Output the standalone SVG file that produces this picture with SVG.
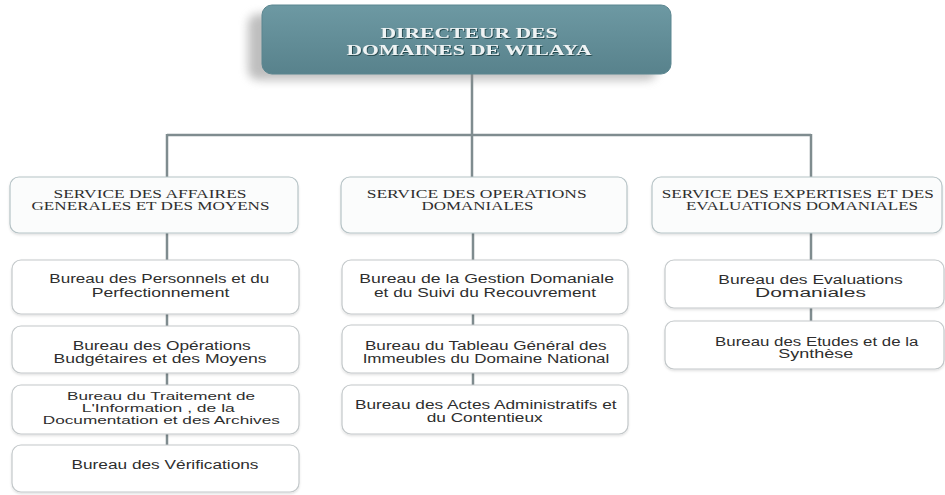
<svg xmlns="http://www.w3.org/2000/svg" width="945" height="495" viewBox="0 0 945 495">
<defs>
<linearGradient id="topg" x1="0" y1="0" x2="0" y2="1">
<stop offset="0" stop-color="#6d99a3"/>
<stop offset="1" stop-color="#58828c"/>
</linearGradient>
<filter id="blur" x="-20%" y="-50%" width="140%" height="200%"><feGaussianBlur stdDeviation="5"/></filter>
<filter id="tsh" x="-10%" y="-30%" width="120%" height="160%"><feDropShadow dx="1" dy="1" stdDeviation="0.6" flood-color="#1e3a40" flood-opacity="0.8"/></filter>
<filter id="bsh" x="-5%" y="-10%" width="110%" height="130%"><feDropShadow dx="0" dy="1.5" stdDeviation="1" flood-color="#000" flood-opacity="0.12"/></filter>
</defs>
<style>
.conn{stroke:#7f8c8f;stroke-width:2.5;fill:none}
.svc{fill:#fbfcfc;stroke:#b6c3c6;stroke-width:1.2;filter:url(#bsh)}
.bur{fill:#ffffff;stroke:#c3c8ca;stroke-width:1.2;filter:url(#bsh)}
.ts{font-family:"Liberation Serif","Times New Roman",serif;font-size:12.5px;fill:#2e2e2e;text-anchor:middle}
.tb{font-family:"Liberation Sans",Arial,sans-serif;font-size:12.5px;fill:#2e2e2e;text-anchor:middle}
.tb.sm{font-size:11px}
.tt{font-family:"Liberation Serif","Times New Roman",serif;font-size:15px;font-weight:bold;fill:#eef3f4;text-anchor:middle;filter:url(#tsh)}
</style>
<rect width="945" height="495" fill="#ffffff"/>

<g id="connectors">
<path class="conn" d="M472 74 V135 M167 135 H811 M167 134 V177 M472 135 V177 M811 134 V177"/>
<path class="conn" d="M167 233 V260 M167 314 V326 M167 373 V385 M167 434 V445"/>
<path class="conn" d="M473 233 V260 M473 314 V326 M473 373 V385"/>
<path class="conn" d="M811 233 V260 M811 308 V321"/>
</g>

<g id="directeur">
<rect x="248" y="14" width="409" height="66" rx="10" fill="#8a8a8a" opacity="0.55" filter="url(#blur)"/>
<rect x="262" y="5" width="409" height="69" rx="10" fill="url(#topg)" stroke="#5b8690" stroke-width="1"/>
<text class="tt" x="469" y="38" textLength="177" lengthAdjust="spacingAndGlyphs">DIRECTEUR DES</text>
<text class="tt" x="469" y="55" textLength="245" lengthAdjust="spacingAndGlyphs">DOMAINES DE WILAYA</text>
</g>

<g id="svc-affaires">
<rect class="svc" x="10" y="177" width="288" height="56" rx="9"/>
<text class="ts" x="150" y="197.5" textLength="193" lengthAdjust="spacingAndGlyphs">SERVICE DES AFFAIRES</text>
<text class="ts" x="150.5" y="210" textLength="238" lengthAdjust="spacingAndGlyphs">GENERALES ET DES MOYENS</text>
</g>

<g id="svc-operations">
<rect class="svc" x="341" y="177" width="286" height="56" rx="9"/>
<text class="ts" x="476.7" y="197.5" textLength="220" lengthAdjust="spacingAndGlyphs">SERVICE DES OPERATIONS</text>
<text class="ts" x="477.5" y="210" textLength="112" lengthAdjust="spacingAndGlyphs">DOMANIALES</text>
</g>

<g id="svc-expertises">
<rect class="svc" x="652" y="177" width="290" height="56" rx="9"/>
<text class="ts" x="797.8" y="197.5" textLength="272" lengthAdjust="spacingAndGlyphs">SERVICE DES EXPERTISES ET DES</text>
<text class="ts" x="802" y="210" textLength="232" lengthAdjust="spacingAndGlyphs">EVALUATIONS DOMANIALES</text>
</g>

<g id="b-personnels">
<rect class="bur" x="12" y="260" width="287" height="54" rx="9"/>
<text class="tb" x="159.3" y="283" textLength="220" lengthAdjust="spacingAndGlyphs">Bureau des Personnels et du</text>
<text class="tb" x="160.5" y="297.3" textLength="137.6" lengthAdjust="spacingAndGlyphs">Perfectionnement</text>
</g>

<g id="b-budgetaires">
<rect class="bur" x="12" y="326" width="287" height="47" rx="9"/>
<text class="tb" x="161.7" y="350" textLength="178" lengthAdjust="spacingAndGlyphs">Bureau des Opérations</text>
<text class="tb" x="160" y="362.7" textLength="213" lengthAdjust="spacingAndGlyphs">Budgétaires et des Moyens</text>
</g>

<g id="b-traitement">
<rect class="bur" x="12" y="385" width="287" height="49" rx="9"/>
<text class="tb sm" x="161" y="399.5" textLength="188" lengthAdjust="spacingAndGlyphs">Bureau du Traitement de</text>
<text class="tb sm" x="158.3" y="411.8" textLength="153" lengthAdjust="spacingAndGlyphs">L'Information , de la</text>
<text class="tb sm" x="161.3" y="424.3" textLength="237" lengthAdjust="spacingAndGlyphs">Documentation et des Archives</text>
</g>

<g id="b-verifications">
<rect class="bur" x="12" y="445" width="287" height="47" rx="9"/>
<text class="tb" x="165" y="469" textLength="187" lengthAdjust="spacingAndGlyphs">Bureau des Vérifications</text>
</g>

<g id="b-gestion">
<rect class="bur" x="342" y="260" width="286" height="54" rx="9"/>
<text class="tb" x="486.7" y="282.7" textLength="254.7" lengthAdjust="spacingAndGlyphs">Bureau de la Gestion Domaniale</text>
<text class="tb" x="485" y="297.3" textLength="222" lengthAdjust="spacingAndGlyphs">et du Suivi du Recouvrement</text>
</g>

<g id="b-tableau">
<rect class="bur" x="342" y="325" width="286" height="48" rx="9"/>
<text class="tb" x="485.8" y="350" textLength="241.7" lengthAdjust="spacingAndGlyphs">Bureau du Tableau Général des</text>
<text class="tb" x="486" y="362.7" textLength="246.7" lengthAdjust="spacingAndGlyphs">Immeubles du Domaine National</text>
</g>

<g id="b-actes">
<rect class="bur" x="342" y="385" width="286" height="49" rx="9"/>
<text class="tb" x="485.8" y="409.3" textLength="261.7" lengthAdjust="spacingAndGlyphs">Bureau des Actes Administratifs et</text>
<text class="tb" x="484.7" y="421.7" textLength="116" lengthAdjust="spacingAndGlyphs">du Contentieux</text>
</g>

<g id="b-evaluations">
<rect class="bur" x="665" y="260" width="279" height="48" rx="9"/>
<text class="tb" x="810.5" y="284" textLength="184.3" lengthAdjust="spacingAndGlyphs">Bureau des Evaluations</text>
<text class="tb" x="810.5" y="296.7" textLength="111" lengthAdjust="spacingAndGlyphs">Domaniales</text>
</g>

<g id="b-etudes">
<rect class="bur" x="665" y="321" width="279" height="48" rx="9"/>
<text class="tb" x="816.7" y="346" textLength="203.3" lengthAdjust="spacingAndGlyphs">Bureau des Etudes et de la</text>
<text class="tb" x="815.8" y="358.3" textLength="75" lengthAdjust="spacingAndGlyphs">Synthèse</text>
</g>
</svg>
